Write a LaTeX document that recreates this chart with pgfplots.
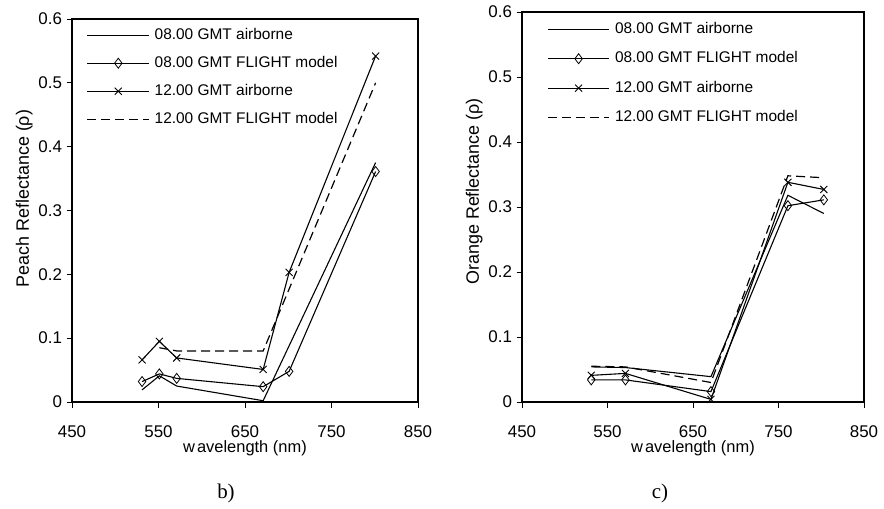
\documentclass[border=0pt]{standalone}
\usepackage{fontspec}
\setmainfont{Liberation Sans}
\newfontfamily\capfont{Liberation Serif}
\usepackage{pgfplots}
\pgfplotsset{compat=1.18}
\pgfplotsset{
  myax/.style={
    scale only axis, anchor=south west,
    xmin=450, xmax=850, ymin=0, ymax=0.6,
    xtick={450,550,650,750,850},
    ytick={0,0.1,0.2,0.3,0.4,0.5,0.6},
    tick pos=left, tick align=outside,
    major tick length=5.5bp,
    every tick/.style={black, line width=0.9bp},
    axis line style={line width=1.1bp},
    /pgf/number format/assume math mode=true,
    yticklabel style={/pgf/number format/fixed, /pgf/number format/precision=1, xshift=-1bp},
    xticklabel style={/pgf/number format/1000 sep={}, yshift=-15bp},
    tick label style={font=\fontsize{17}{19}\selectfont},
    label style={font=\fontsize{18}{20}\selectfont},
    xlabel={w\kern2bp avelength (nm)},
    xlabel style={yshift=4bp, font=\fontsize{16.5}{18}\selectfont},
    legend cell align=left,
    legend style={draw=none, fill=none, at={(0,1)}, anchor=north west,
      font=\fontsize{15.5}{17}\selectfont, row sep=14bp, column sep=5bp,
      inner sep=0pt,
      nodes={inner sep=0pt, text height=11bp, text depth=3bp}},
    legend image code/.code={\draw[mark repeat=2,mark phase=2] plot coordinates {(0bp,0bp) (30.8bp,0bp) (61.6bp,0bp)};},
  },
  s1/.style={black, line width=1.1bp, mark=none},
  s2/.style={black, line width=1.1bp, mark=diamond, mark size=5bp, mark options={solid, fill=white, line width=0.8bp}},
  s3/.style={black, line width=1.1bp, mark=x, mark size=5bp, mark options={solid, line width=0.9bp}},
  s4/.style={black, line width=1.2bp, mark=none, dash pattern=on 9bp off 5bp},
}
\begin{document}
\begin{tikzpicture}
\useasboundingbox (0,0) rectangle (884bp,509bp);
% left panel b)
\begin{axis}[myax, at={(72bp,107bp)}, width=346bp, height=383bp,
  ylabel={Peach Reflectance (ρ)},
  ylabel style={at={(ticklabel cs:0.531)}, yshift=-1bp},
  legend style={xshift=14.7bp, yshift=-9bp}]
\addplot[s1] coordinates {(531,0.019)(551,0.041)(571,0.025)(671,0.002)(801,0.375)};
\addlegendentry{08.00 GMT airborne}
\addplot[s2] coordinates {(531,0.032)(551,0.044)(571,0.037)(671,0.024)(701,0.048)(801,0.361)};
\addlegendentry{08.00 GMT FLIGHT model}
\addplot[s3] coordinates {(531,0.066)(551,0.095)(571,0.069)(671,0.051)(701,0.203)(801,0.542)};
\addlegendentry{12.00 GMT airborne}
\addplot[s4] coordinates {(551,0.085)(571,0.080)(671,0.080)(801,0.500)};
\addlegendentry{12.00 GMT FLIGHT model}
\end{axis}
% right panel c)
\begin{axis}[myax, at={(522bp,107bp)}, width=342bp, height=390bp,
  ylabel={Orange Reflectance (ρ)},
  ylabel style={at={(ticklabel cs:0.54)}, yshift=-1bp},
  legend style={xshift=25bp, yshift=-10bp, row sep=15.5bp}]
\addplot[s1] coordinates {(531,0.054)(571,0.053)(671,0.039)(761,0.318)(803,0.290)};
\addlegendentry{08.00 GMT airborne}
\addplot[s2] coordinates {(531,0.034)(571,0.034)(671,0.016)(761,0.302)(803,0.311)};
\addlegendentry{08.00 GMT FLIGHT model}
\addplot[s3] coordinates {(531,0.041)(571,0.044)(671,0.004)(761,0.338)(803,0.327)};
\addlegendentry{12.00 GMT airborne}
\addplot[s4] coordinates {(531,0.055)(571,0.054)(671,0.030)(761,0.348)(803,0.345)};
\addlegendentry{12.00 GMT FLIGHT model}
\end{axis}
\node[font=\capfont\fontsize{21}{23}\selectfont] at (226bp,16bp) {b)};
\node[font=\capfont\fontsize{21}{23}\selectfont] at (660bp,16bp) {c)};
\end{tikzpicture}
\end{document}
